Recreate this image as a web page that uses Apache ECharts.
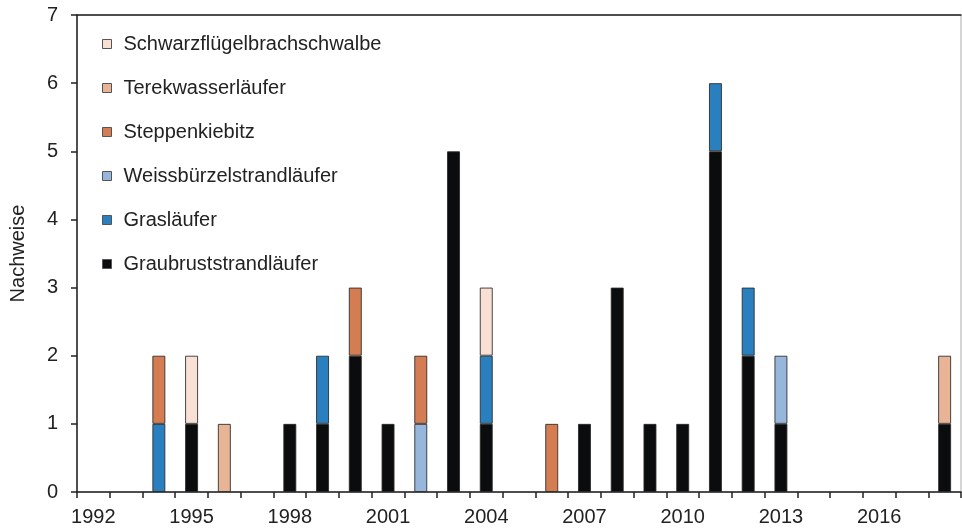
<!DOCTYPE html>
<html>
<head>
<meta charset="utf-8">
<script src="https://cdn.jsdelivr.net/npm/echarts@6/dist/echarts.min.js"></script>
<style>
  html, body { margin: 0; padding: 0; background: #fff; }
  #chart { width: 962px; height: 528px; }
</style>
</head>
<body>
<div id="chart"></div>
<script>
// Jahre 1992 - 2018
const years = ['1992', '1993', '1994', '1995', '1996', '1997', '1998', '1999', '2000', '2001', '2002', '2003', '2004', '2005',
  '2006', '2007', '2008', '2009', '2010', '2011', '2012', '2013', '2014', '2015', '2016', '2017', '2018']

// Nachweise pro Art und Jahr (von unten nach oben gestapelt)
const graubruststrandlaeufer = [0, 0, 0, 1, 0, 0, 1, 1, 2, 1, 0, 5, 1, 0, 0, 1, 3, 1, 1, 5, 2, 1, 0, 0, 0, 0, 1]
const graslaeufer = [0, 0, 1, 0, 0, 0, 0, 1, 0, 0, 0, 0, 1, 0, 0, 0, 0, 0, 0, 1, 1, 0, 0, 0, 0, 0, 0]
const weissbuerzelstrandlaeufer = [0, 0, 0, 0, 0, 0, 0, 0, 0, 0, 1, 0, 0, 0, 0, 0, 0, 0, 0, 0, 0, 1, 0, 0, 0, 0, 0]
const steppenkiebitz = [0, 0, 1, 0, 0, 0, 0, 0, 1, 0, 1, 0, 0, 0, 1, 0, 0, 0, 0, 0, 0, 0, 0, 0, 0, 0, 0]
const terekwasserlaeufer = [0, 0, 0, 0, 1, 0, 0, 0, 0, 0, 0, 0, 0, 0, 0, 0, 0, 0, 0, 0, 0, 0, 0, 0, 0, 0, 1]
const schwarzfluegelbrachschwalbe = [0, 0, 0, 1, 0, 0, 0, 0, 0, 0, 0, 0, 1, 0, 0, 0, 0, 0, 0, 0, 0, 0, 0, 0, 0, 0, 0]

const yTicks = [0, 1, 2, 3, 4, 5, 6, 7]

const speciesList = [
  { name: 'Graubruststrandläufer', data: graubruststrandlaeufer, color: '#0b0c0d' },
  { name: 'Grasläufer', data: graslaeufer, color: '#2a80bf' },
  { name: 'Weissbürzelstrandläufer', data: weissbuerzelstrandlaeufer, color: '#96b6dc' },
  { name: 'Steppenkiebitz', data: steppenkiebitz, color: '#d47c52' },
  { name: 'Terekwasserläufer', data: terekwasserlaeufer, color: '#e8b496' },
  { name: 'Schwarzflügelbrachschwalbe', data: schwarzfluegelbrachschwalbe, color: '#f9e0d4' }
]

const fontFamily = '"Liberation Sans", Arial, sans-serif'
const textColor = '#222'
const fontSize = 20

const chart = echarts.init(document.getElementById('chart'))
chart.setOption({
  animation: false,
  textStyle: { fontFamily: fontFamily },
  grid: {
    left: 76,
    right: 1,
    top: 15,
    bottom: 36,
    show: true,
    borderColor: '#aaa',
    borderWidth: 1
  },
  legend: {
    orient: 'vertical',
    left: 97,
    top: 29,
    itemWidth: 9,
    itemHeight: 9,
    itemGap: 24,
    icon: 'rect',
    // Reihenfolge wie im Original: oberste Art zuerst
    data: speciesList.map(s => s.name).reverse(),
    textStyle: {
      fontSize: fontSize,
      lineHeight: 20,
      color: textColor,
      padding: [0, 0, 0, 7]
    },
    itemStyle: { borderColor: '#555', borderWidth: 1 }
  },
  xAxis: [
    {
      type: 'category',
      data: years,
      boundaryGap: true,
      axisLine: { lineStyle: { color: '#222', width: 1.5 } },
      axisTick: { show: true, interval: 0, length: 6, lineStyle: { color: '#222', width: 1.5 } },
      axisLabel: { interval: 2, fontSize: fontSize, color: textColor, margin: 15 }
    },
    {
      type: 'category',
      position: 'top',
      data: years,
      axisLine: { lineStyle: { color: '#222', width: 1.5 } },
      axisTick: { show: false },
      axisLabel: { show: false }
    }
  ],
  yAxis: {
    type: 'value',
    min: yTicks[0],
    max: yTicks[yTicks.length - 1],
    interval: 1,
    name: 'Nachweise',
    nameLocation: 'middle',
    nameGap: 49,
    nameTextStyle: { fontSize: fontSize, color: textColor },
    axisLine: { show: true, lineStyle: { color: '#222', width: 1.5 } },
    axisTick: { show: true, length: 6, lineStyle: { color: '#222', width: 1.5 } },
    axisLabel: { fontSize: fontSize, color: textColor, margin: 19 },
    splitLine: { show: false }
  },
  series: speciesList.map(s => ({
    name: s.name,
    type: 'bar',
    stack: 'nachweise',
    barWidth: 13,
    // leere Jahre nicht zeichnen (sonst Randlinie auf der Achse)
    data: s.data.map(v => (v === 0 ? '-' : v)),
    itemStyle: {
      color: s.color,
      borderColor: 'rgba(40,40,40,0.85)',
      borderWidth: 1
    }
  }))
})
</script>
</body>
</html>
